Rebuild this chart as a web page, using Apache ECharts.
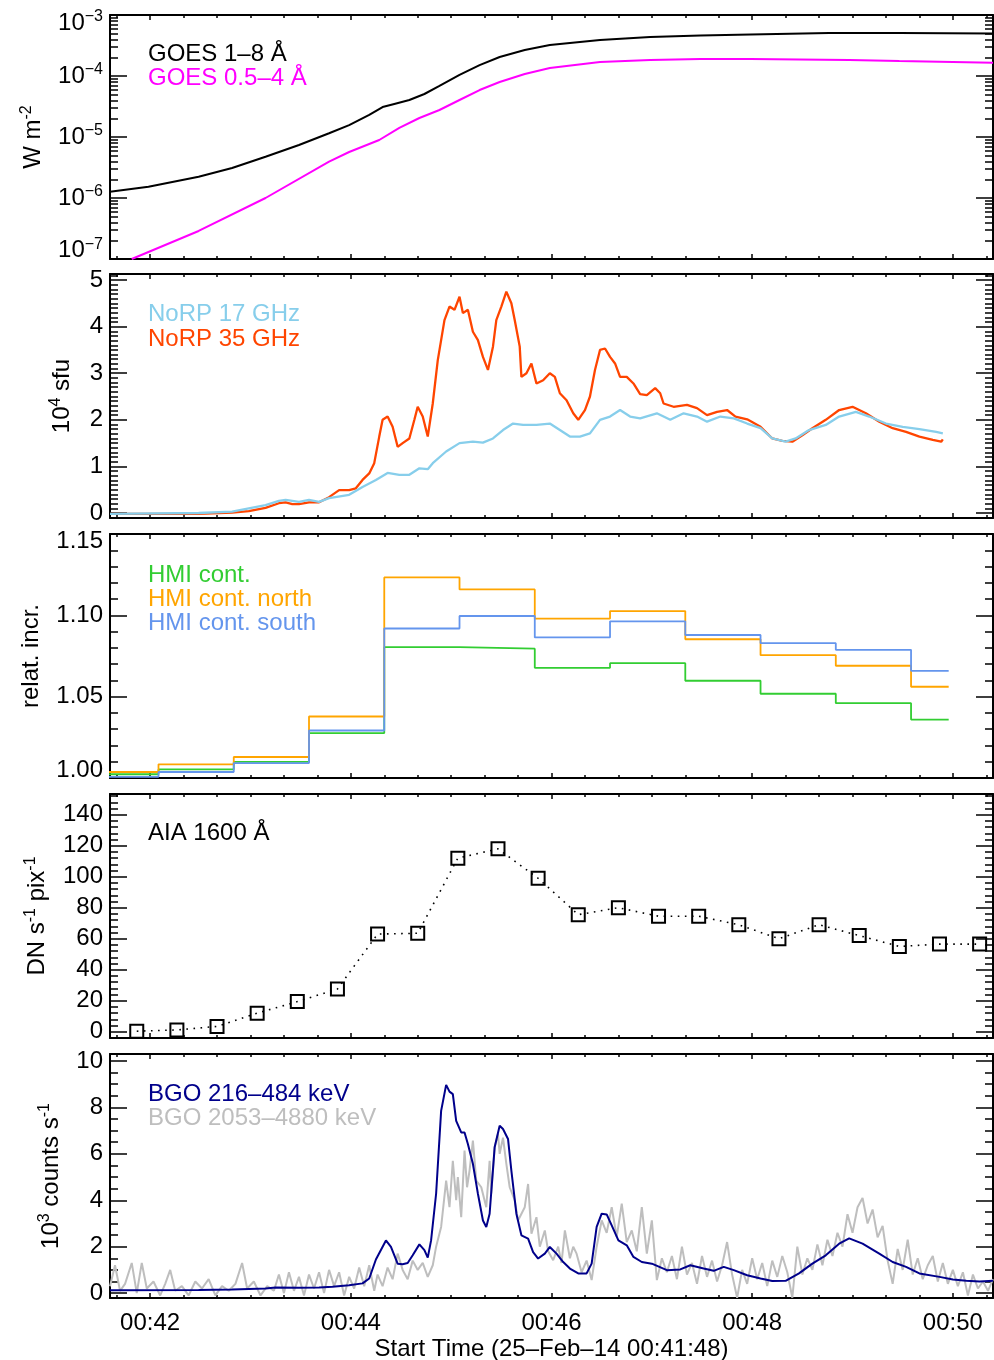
<!DOCTYPE html>
<html>
<head>
<meta charset="utf-8">
<title>Flare light curves 25-Feb-2014</title>
<script src="https://cdn.jsdelivr.net/npm/echarts@6/dist/echarts.min.js"></script>
<style>
  html, body { margin: 0; padding: 0; background: #fff; }
  #chart { width: 994px; height: 1360px; }
</style>
</head>
<body>
<div id="chart"></div>
<script>
// time axis: seconds after 00:40:00 UT
const xMin = 96
const xMax = 624
const xMajorTicks = [120, 240, 360, 480, 600]
const xTickLabels = ['00:42', '00:44', '00:46', '00:48', '00:50']
const xTitle = 'Start Time (25\u2013Feb\u201314 00:41:48)'

// GOES (W m^-2)
const goesLongT = [96, 119, 149, 169, 189, 209, 227, 239, 251, 259, 266, 275, 284, 293, 305, 317, 329, 344, 359, 389, 419, 449, 479, 526, 568, 624]
const goesLong = [1.27e-6, 1.53e-6, 2.23e-6, 3.10e-6, 4.75e-6, 7.40e-6, 1.15e-5, 1.57e-5, 2.30e-5, 3.10e-5, 3.48e-5, 4.04e-5, 5.07e-5, 6.86e-5, 1.04e-4, 1.51e-4, 2.05e-4, 2.67e-4, 3.22e-4, 3.89e-4, 4.35e-4, 4.61e-4, 4.79e-4, 5.07e-4, 5.07e-4, 4.98e-4]
const goesShortT = [109, 149, 189, 227, 239, 257, 269, 281, 293, 305, 317, 329, 344, 359, 389, 419, 449, 479, 508, 538, 568, 624]
const goesShort = [1.0e-7, 2.88e-7, 1.0e-6, 3.94e-6, 5.68e-6, 8.93e-6, 1.41e-5, 2.05e-5, 2.77e-5, 4.04e-5, 5.89e-5, 7.97e-5, 1.08e-4, 1.35e-4, 1.70e-4, 1.83e-4, 1.90e-4, 1.90e-4, 1.87e-4, 1.83e-4, 1.76e-4, 1.65e-4]

// NoRP (10^4 sfu)
const norp35T = [
  96, 149, 169, 179, 189, 197, 201, 205, 209, 215,
  221, 227, 233, 239, 243, 247, 251, 254, 257, 259,
  262, 265, 268, 271, 275, 278, 280, 283, 286, 289,
  292, 294, 296, 299, 302, 305, 307, 310, 313, 316,
  319, 322, 325, 327, 330, 333, 336, 338, 341, 342,
  345, 348, 351, 355, 359, 362, 365, 369, 373, 376,
  380, 383, 386, 389, 392, 395, 398, 401, 405, 409,
  413, 417, 422, 425, 427, 433, 441, 447, 453, 459,
  465, 470, 477, 485, 492, 498, 504, 510, 516, 524,
  532, 540, 548, 556, 564, 572, 580, 588, 593, 594]
const norp35 = [
  -0.02, -0.02, 0.01, 0.04, 0.11, 0.21, 0.23, 0.19, 0.19, 0.23,
  0.23, 0.34, 0.49, 0.49, 0.53, 0.71, 0.85, 1.07, 1.64, 2.00,
  2.07, 1.85, 1.42, 1.50, 1.60, 2.00, 2.28, 2.07, 1.64, 2.35,
  3.28, 3.71, 4.14, 4.43, 4.36, 4.64, 4.29, 4.36, 3.89, 3.71,
  3.35, 3.07, 3.57, 4.14, 4.43, 4.75, 4.50, 4.14, 3.57, 2.92,
  3.00, 3.21, 2.78, 2.85, 3.00, 2.92, 2.57, 2.42, 2.14, 2.00,
  2.21, 2.50, 3.07, 3.50, 3.53, 3.35, 3.21, 2.92, 2.92, 2.78,
  2.55, 2.53, 2.68, 2.57, 2.35, 2.28, 2.32, 2.25, 2.10, 2.17,
  2.21, 2.07, 2.01, 1.85, 1.60, 1.55, 1.53, 1.67, 1.82, 2.00,
  2.21, 2.28, 2.14, 1.96, 1.82, 1.74, 1.64, 1.57, 1.53, 1.58]
const norp17T = [
  96, 149, 169, 189, 197, 201, 209, 215, 221, 227,
  239, 247, 255, 262, 269, 275, 281, 286, 289, 297,
  305, 313, 319, 325, 331, 337, 343, 351, 359, 365,
  371, 377, 383, 389, 395, 401, 407, 413, 423, 431,
  439, 447, 453, 461, 469, 477, 485, 492, 500, 506,
  514, 524, 532, 542, 550, 560, 570, 580, 590, 594]
const norp17 = [
  -0.02, 0.00, 0.03, 0.17, 0.26, 0.28, 0.24, 0.28, 0.24, 0.32,
  0.39, 0.56, 0.71, 0.86, 0.82, 0.82, 0.96, 0.94, 1.07, 1.32,
  1.50, 1.53, 1.51, 1.60, 1.78, 1.92, 1.89, 1.89, 1.92, 1.78,
  1.64, 1.64, 1.71, 2.00, 2.07, 2.21, 2.07, 2.03, 2.14, 2.00,
  2.14, 2.07, 1.96, 2.07, 2.03, 1.92, 1.82, 1.60, 1.53, 1.60,
  1.78, 1.89, 2.07, 2.17, 2.07, 1.92, 1.85, 1.80, 1.74, 1.71]

// HMI continuum, 45 s bins (bin start times, last entry = end of last bin)
const hmiT = [80, 125, 170, 215, 260, 305, 350, 395, 440, 485, 530, 575, 597.5]
const hmiAll = [1.0023, 1.0053, 1.0099, 1.0276, 1.0804, 1.0795, 1.0677, 1.0706, 1.0598, 1.0518, 1.0460, 1.0359]
const hmiNorth = [1.0037, 1.0084, 1.0129, 1.0378, 1.1233, 1.1159, 1.0980, 1.1026, 1.0853, 1.0755, 1.0690, 1.0561]
const hmiSouth = [1.0007, 1.0037, 1.0092, 1.0292, 1.0919, 1.0996, 1.0864, 1.0963, 1.0879, 1.0829, 1.0788, 1.0659]

// AIA 1600 (DN s^-1 pix^-1), 24 s cadence
const aiaT = [112, 136, 160, 184, 208, 232, 256, 280, 304, 328, 352, 376, 400, 424, 448, 472, 496, 520, 544, 568, 592, 616]
const aia = [0.3, 1.1, 3.4, 11.9, 19.4, 27.5, 63, 63.5, 112, 118, 99, 75.5, 80, 74.5, 74.5, 69, 60, 69, 62, 55, 56.5, 56.5]

// Fermi GBM BGO (10^3 counts s^-1)
const bgoLoT = [
  96, 149, 169, 189, 195, 209, 221, 229, 239, 247,
  251, 255, 261, 264, 268, 271, 274, 277, 281, 284,
  286, 288, 291, 294, 297, 299, 301, 303, 306, 308,
  310, 313, 316, 319, 321, 323, 326, 329, 331, 334,
  336, 339, 342, 346, 349, 352, 356, 359, 363, 367,
  371, 376, 381, 384, 387, 390, 393, 396, 400, 405,
  409, 414, 420, 429, 437, 443, 451, 457, 463, 469,
  477, 485, 492, 500, 508, 516, 524, 532, 538, 546,
  556, 564, 572, 580, 592, 600, 608, 616, 624]
const bgoLo = [
  0.12, 0.13, 0.16, 0.20, 0.24, 0.23, 0.24, 0.27, 0.34, 0.42,
  0.63, 1.45, 2.27, 1.99, 1.27, 1.24, 1.30, 1.63, 2.10, 1.85,
  1.53, 2.27, 4.28, 7.85, 8.97, 8.68, 8.57, 7.42, 6.92, 6.92,
  6.42, 5.57, 4.28, 3.13, 2.85, 3.42, 6.28, 7.21, 7.07, 6.64,
  5.28, 3.42, 2.49, 2.35, 1.77, 1.49, 1.70, 1.99, 1.70, 1.34,
  1.06, 0.85, 0.85, 1.27, 2.85, 3.42, 3.39, 2.92, 2.27, 2.06,
  1.56, 1.34, 1.27, 0.99, 1.02, 1.20, 1.06, 0.96, 1.13, 0.99,
  0.77, 0.63, 0.52, 0.53, 0.85, 1.27, 1.63, 2.13, 2.36, 2.13,
  1.70, 1.34, 1.13, 0.85, 0.70, 0.59, 0.53, 0.50, 0.53]
const bgoHiT = [
  96, 99, 102, 105, 109, 112, 115, 118, 122, 126,
  129, 132, 135, 139, 143, 147, 151, 155, 159, 163,
  167, 171, 175, 178, 182, 186, 190, 194, 197, 200,
  203, 206, 209, 212, 215, 218, 221, 224, 227, 230,
  233, 236, 239, 242, 245, 248, 251, 254, 256, 259,
  262, 265, 268, 271, 274, 277, 280, 283, 286, 289,
  291, 294, 297, 299, 301, 303, 304, 306, 308, 309.5,
  311, 313, 315, 318, 321, 323, 324, 326, 328, 329,
  331, 333, 335, 338, 340, 344, 346, 348, 351, 353,
  356, 358, 361, 364, 366, 368, 371, 373, 375, 378,
  381, 384, 387, 390, 393, 396, 399, 402, 405, 408,
  411, 414, 417, 420, 423, 426, 429, 432, 435, 438,
  441, 444, 447, 450, 453, 456, 459, 462, 465, 468,
  471, 474, 477, 480, 483, 486, 489, 492, 495, 498,
  501, 504, 507, 510, 513, 516, 519, 522, 525, 528,
  531, 534, 537, 540, 543, 546, 549, 552, 555, 558,
  561, 564, 567, 570, 573, 576, 579, 582, 585, 588,
  591, 594, 597, 600, 603, 606, 609, 612, 615, 618,
  621, 624]
const bgoHi = [
  0.3, 1.2, 0.1, 0.4, 1.3, 0.0, 1.3, 0.2, 0.5, -0.1,
  0.4, 1.0, 0.1, 0.3, -0.1, 0.5, 0.2, 0.6, -0.1, 0.3,
  0.1, 0.4, 1.3, 0.2, 0.5, -0.1, 0.3, 0.1, 0.8, 0.0,
  0.9, 0.1, 0.7, -0.1, 0.8, 0.2, 0.9, 0.0, 1.0, 0.3,
  0.9, -0.1, 0.7, 0.2, 1.1, 0.3, 1.2, 0.1, 0.8, 0.3,
  1.1, 0.6, 1.7, 1.0, 0.6, 1.4, 1.0, 1.3, 0.7, 1.2,
  2.0, 2.85, 4.85, 3.7, 5.7, 4.0, 5.0, 3.27, 6.14, 4.56,
  5.28, 6.57, 4.85, 4.56, 3.7, 5.7, 4.28, 6.28, 6.85, 6.0,
  6.7, 5.57, 4.56, 4.0, 3.13, 3.7, 4.7, 2.56, 3.27, 2.0,
  2.7, 1.8, 1.42, 2.0, 1.3, 2.7, 1.5, 2.0, 1.7, 0.9,
  1.4, 0.56, 2.0, 3.13, 2.6, 3.7, 2.42, 3.85, 2.2, 2.7,
  1.8, 3.7, 1.7, 3.13, 0.56, 1.5, 0.9, 1.6, 0.6, 2.0,
  0.8, 1.3, 0.4, 1.6, 0.7, 1.4, 0.5, 1.2, 2.2, 0.8,
  -0.2, 1.0, 0.4, 1.5, 0.6, 1.3, 0.3, 1.4, 0.7, 1.6,
  0.9, -0.2, 2.0, 0.8, 1.5, 1.0, 2.1, 1.2, 2.3, 1.6,
  2.6, 2.0, 3.4, 2.6, 3.7, 4.1, 3.0, 3.6, 2.4, 2.9,
  1.4, 0.4, 1.9, 1.0, 2.3, 0.8, 1.5, 0.6, 1.2, 1.6,
  0.5, 1.3, 0.4, 1.0, 0.3, 0.9, -0.1, 0.8, 0.2, 0.5,
  0.1, 0.6]

const FONT = '"Liberation Sans", Arial, Helvetica, sans-serif'
const FS = 24

// tick helpers
const steps = (a, b, d) => {
  const out = []
  for (let v = a; v <= b + 1e-9; v += d) out.push(+v.toFixed(6))
  return out
}
const without = (arr, ex) => arr.filter(v => !ex.some(e => Math.abs(e - v) < 1e-9))
const xMinorTicks = without(steps(100, 620, 20), xMajorTicks)

const goesMajor = [1e-7, 1e-6, 1e-5, 1e-4, 1e-3]
const goesMinor = []
goesMajor.slice(0, 4).forEach(d => { for (let k = 2; k <= 9; k++) goesMinor.push(k * d) })

const panels = [
  {
    top: 15, type: 'log', min: 1e-7, max: 1e-3, major: goesMajor, minor: goesMinor,
    labelAt: [1.377e-7, 1e-6, 1e-5, 1e-4, 7.4e-4],
    label: v => '{b|10}{s|\u2212' + (-Math.round(Math.log10(v))) + '}',
    name: '{n|W m}{s|-2}', nameGap: 63
  },
  {
    top: 274, min: -0.107, max: 5.129, major: steps(0, 5, 1), minor: without(steps(-0.1, 5.1, 0.1), steps(0, 5, 1)),
    labelAt: steps(0, 5, 1), label: v => String(v),
    name: '{n|10}{s|4}{n| sfu}', nameGap: 34
  },
  {
    top: 534, min: 1.0, max: 1.15, major: [1.0, 1.05, 1.1, 1.15], minor: without(steps(1.01, 1.14, 0.01), [1.05, 1.1]),
    labelAt: [1.0047, 1.05, 1.1, 1.1455], label: v => v.toFixed(2),
    name: '{n|relat. incr.}', nameGap: 67
  },
  {
    top: 794, min: -4.1, max: 153.4, major: steps(0, 140, 20), minor: without(steps(-4, 152, 4), steps(0, 140, 20)),
    labelAt: steps(0, 140, 20), label: v => String(v),
    name: '{n|DN s}{s|-1}{n| pix}{s|-1}', nameGap: 59
  },
  {
    top: 1054, min: -0.21, max: 10.3, major: steps(0, 10, 2), minor: without(steps(0.5, 9.5, 0.5), steps(0, 10, 2)),
    labelAt: steps(0, 10, 2), label: v => String(v),
    name: '{n|10}{s|3}{n| counts s}{s|-1}', nameGap: 45
  }
]

const labelRich = {
  b: { fontSize: FS, fontFamily: FONT, color: '#000' },
  s: { fontSize: 16, fontFamily: FONT, color: '#000', padding: [0, 0, 12, 0] }
}
const nameRich = {
  n: { fontSize: FS, fontFamily: FONT, color: '#000' },
  s: { fontSize: 16, fontFamily: FONT, color: '#000', padding: [0, 0, 12, 0] }
}

const grids = []
const xAxes = []
const yAxes = []
const tick = (vals, len) => ({ show: true, inside: true, length: len, customValues: vals, lineStyle: { color: '#000', width: 1.5 } })
const axLine = show => ({ show, onZero: false, lineStyle: { color: '#000', width: 2 } })
const noLabel = { show: false }

panels.forEach((p, i) => {
  const last = i === panels.length - 1
  grids.push({ left: 110, width: 883, top: p.top, height: 244, outerBoundsMode: 'none' })

  const xBase = { type: 'value', gridIndex: i, min: xMin, max: xMax, splitLine: { show: false } }
  xAxes.push(
    {
      ...xBase, position: 'bottom', axisLine: axLine(true), axisTick: tick(xMajorTicks, 5),
      axisLabel: last ? {
        show: true, customValues: xMajorTicks, margin: 13, color: '#000', fontFamily: FONT, fontSize: FS,
        formatter: v => xTickLabels[xMajorTicks.indexOf(v)]
      } : noLabel,
      name: last ? xTitle : '', nameLocation: 'middle', nameGap: 39,
      nameTextStyle: { color: '#000', fontFamily: FONT, fontSize: FS }
    },
    { ...xBase, position: 'bottom', axisLine: axLine(false), axisTick: tick(xMinorTicks, 3), axisLabel: noLabel },
    { ...xBase, position: 'top', axisLine: axLine(true), axisTick: tick(xMajorTicks, 5), axisLabel: noLabel },
    { ...xBase, position: 'top', axisLine: axLine(false), axisTick: tick(xMinorTicks, 3), axisLabel: noLabel }
  )

  const yBase = { type: p.type || 'value', gridIndex: i, min: p.min, max: p.max, splitLine: { show: false } }
  yAxes.push(
    {
      ...yBase, position: 'left', axisLine: axLine(true), axisTick: tick(p.major, 17),
      axisLabel: {
        show: true, customValues: p.labelAt, formatter: p.label, margin: 7,
        color: '#000', fontFamily: FONT, fontSize: FS, rich: labelRich
      },
      name: p.name, nameLocation: 'middle', nameRotate: 90, nameGap: p.nameGap,
      nameTextStyle: { color: '#000', fontFamily: FONT, fontSize: FS, rich: nameRich }
    },
    { ...yBase, position: 'left', axisLine: axLine(false), axisTick: tick(p.minor, 8), axisLabel: noLabel },
    { ...yBase, position: 'right', axisLine: axLine(true), axisTick: tick(p.major, 17), axisLabel: noLabel },
    { ...yBase, position: 'right', axisLine: axLine(false), axisTick: tick(p.minor, 8), axisLabel: noLabel }
  )
})

const zip = (t, v) => t.map((x, k) => [x, v[k]])
const lineSeries = (panel, data, color, width, extra) => ({
  type: 'line', xAxisIndex: panel * 4, yAxisIndex: panel * 4, data,
  symbol: 'none', silent: true, clip: true,
  lineStyle: { color, width }, itemStyle: { color },
  ...(extra || {})
})
const hmiData = v => zip(hmiT, v.concat([v[v.length - 1]]))

const series = [
  lineSeries(0, zip(goesLongT, goesLong), '#000000', 2),
  lineSeries(0, zip(goesShortT, goesShort), '#ff00ff', 2),
  lineSeries(1, zip(norp35T, norp35), '#ff4500', 2.3),
  lineSeries(1, zip(norp17T, norp17), '#87ceeb', 2.3),
  lineSeries(2, hmiData(hmiAll), '#32cd32', 1.8, { step: 'end' }),
  lineSeries(2, hmiData(hmiNorth), '#ffa500', 1.8, { step: 'end' }),
  lineSeries(2, hmiData(hmiSouth), '#6495ed', 1.8, { step: 'end' }),
  {
    type: 'line', xAxisIndex: 12, yAxisIndex: 12, data: zip(aiaT, aia), silent: true,
    symbol: 'rect', symbolSize: 13, showSymbol: true,
    itemStyle: { color: 'rgba(0,0,0,0)', borderColor: '#000', borderWidth: 2 },
    lineStyle: { color: '#000', width: 1.6, type: [1.6, 5.5] }
  },
  lineSeries(4, zip(bgoHiT, bgoHi), '#bebebe', 2),
  lineSeries(4, zip(bgoLoT, bgoLo), '#00008b', 2)
]

// in-plot legend texts
const legendItems = [
  ['GOES 1\u20138 \u00c5', '#000000', 54],
  ['GOES 0.5\u20134 \u00c5', '#ff00ff', 78],
  ['NoRP 17 GHz', '#87ceeb', 314],
  ['NoRP 35 GHz', '#ff4500', 339],
  ['HMI cont.', '#32cd32', 575],
  ['HMI cont. north', '#ffa500', 599],
  ['HMI cont. south', '#6495ed', 623],
  ['AIA 1600 \u00c5', '#000000', 833],
  ['BGO 216\u2013484 keV', '#00008b', 1094],
  ['BGO 2053\u20134880 keV', '#bebebe', 1118]
]
const graphic = legendItems.map(([text, color, y]) => ({
  type: 'text', x: 148, y, silent: true, z: 100,
  style: { text, fill: color, font: FS + 'px ' + FONT, align: 'left', verticalAlign: 'middle' }
}))

const chart = echarts.init(document.getElementById('chart'), null, { renderer: 'canvas' })
chart.setOption({
  backgroundColor: '#ffffff',
  animation: false,
  grid: grids,
  xAxis: xAxes,
  yAxis: yAxes,
  series,
  graphic
})
window.addEventListener('resize', () => chart.resize())
</script>
</body>
</html>
